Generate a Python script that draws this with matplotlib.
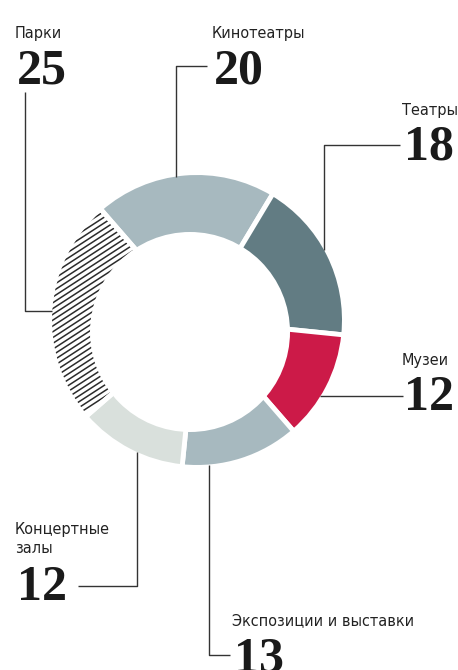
import numpy as np
import matplotlib.pyplot as plt
from matplotlib import font_manager as fm
from matplotlib.collections import LineCollection
from matplotlib.patches import Circle

# data
labels = ['Кинотеатры', 'Театры', 'Музеи', 'Экспозиции и выставки', 'Концертные\nзалы', 'Парки']
values = [20, 18, 12, 13, 12, 25]
colors = ['#a7b9bf', '#627c83', '#cc1a48', '#a7b9bf', '#d9e0dc', 'none']

# layout (pixel coords, y down)
W, H = 458, 670
outer_c, outer_r = (197, 320), 145
inner_c, inner_r = (190, 332), 100
# text x, label baseline (last line), number baseline
text_pos = [(212, 38, 83), (402, 115, 160), (402, 365, 410),
            (232, 625, 671), (15, 553, 600), (15, 38, 83)]
# leader lines: None = point on the outer circle
leaders = [[(176, None), (176, 66), (207, 66)],
           [(324, None), (324, 145), (400, 145)],
           [(None, 396), (403, 396)],
           [(209, None), (209, 655), (230, 655)],
           [(137, None), (137, 586), (78, 586)],
           [(25, 92), (25, 311), (None, 311)]]

# pick a narrow sans for the labels
names = {f.name for f in fm.fontManager.ttflist}
cond = fm.findfont(fm.FontProperties(family='DejaVu Sans', stretch='condensed'))
if 'Liberation Sans Narrow' in names:
    label_kw = dict(family='Liberation Sans Narrow', fontsize=14)
elif 'Condensed' in cond:
    label_kw = dict(family='DejaVu Sans', stretch='condensed', fontsize=11.6)
else:
    label_kw = dict(family='Roboto', fontsize=12)
num_font = ['Liberation Serif', 'DejaVu Serif']
ink = '#222222'

fig = plt.figure(figsize=(W / 100, H / 100), dpi=100)
ax = fig.add_axes([0, 0, 1, 1])

gap = 3.5
wedges, _ = ax.pie(values, colors=colors, startangle=-131, counterclock=True,
                   center=outer_c, radius=outer_r + gap * 100 / 72 / 2,
                   wedgeprops=dict(edgecolor='white', linewidth=gap, zorder=1))

# hatch for "Парки"
a = np.radians(33)
d = np.array([np.cos(a), -np.sin(a)])
n = np.array([np.sin(a), np.cos(a)])
step = 5.8 * np.cos(a)
segs = []
for c in np.arange(-200, 200, step):
    p0 = np.array(outer_c) + c * n - 300 * d
    p1 = np.array(outer_c) + c * n + 300 * d
    segs.append([p0, p1])
hatch = LineCollection(segs, colors='#2b2b2b', linewidths=1.1, zorder=0.5)
ax.add_collection(hatch)
hatch.set_clip_path(wedges[-1])

ax.add_patch(Circle(inner_c, inner_r, facecolor='white', edgecolor='none', zorder=3))

# leaders
cx, cy = outer_c
for pts in leaders:
    pts = list(pts)
    for i, (x, y) in enumerate(pts):
        nb = pts[i + 1] if i + 1 < len(pts) else pts[i - 1]
        if y is None:
            dy = np.sqrt(outer_r ** 2 - (x - cx) ** 2)
            y = cy - dy if nb[1] < cy else cy + dy
        elif x is None:
            dx = np.sqrt(outer_r ** 2 - (y - cy) ** 2)
            x = cx - dx if nb[0] < cx else cx + dx
        pts[i] = (x, y)
    xs, ys = zip(*pts)
    ax.plot(xs, ys, color='#333333', lw=1.0, zorder=4, solid_capstyle='butt')

# texts
for lab, val, (tx, ly, ny) in zip(labels, values, text_pos):
    ax.text(tx, ly, lab, color=ink, ha='left', va='baseline',
            linespacing=1.35, **label_kw)
    ax.text(tx + 2, ny, str(val), family=num_font, fontsize=36, weight='bold',
            color='#1a1a1a', ha='left', va='baseline')

ax.set_xlim(0, W)
ax.set_ylim(H, 0)
ax.set_aspect('equal')
ax.axis('off')

fig.savefig('out.png', dpi=100)
